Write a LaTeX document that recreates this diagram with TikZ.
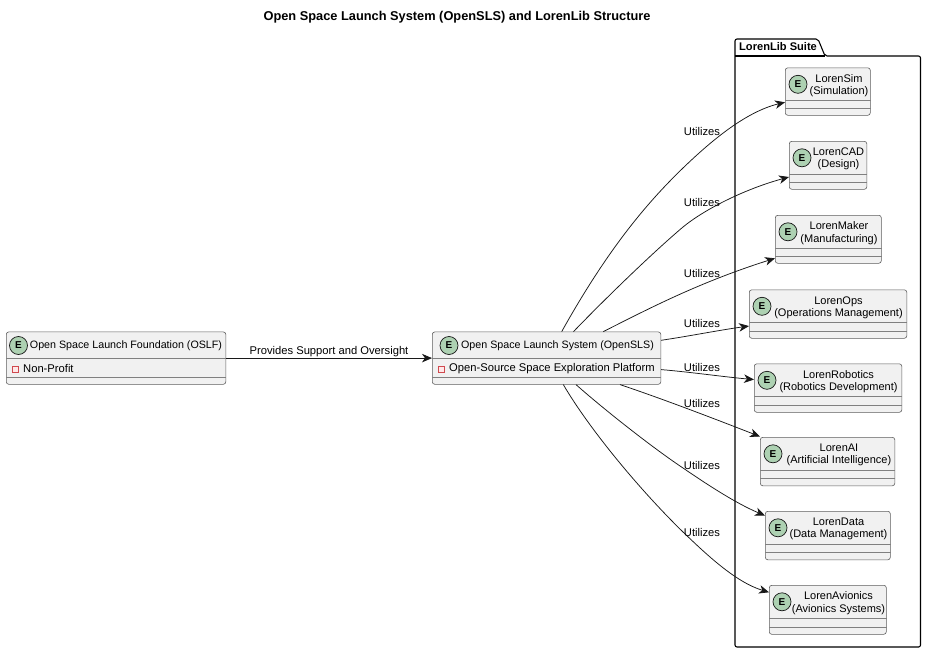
\documentclass[tikz,border=0pt]{standalone}
\usepackage{fontspec}
\setmainfont{Liberation Sans}
\usetikzlibrary{arrows.meta,calc}
\definecolor{boxfill}{HTML}{F1F1F1}
\definecolor{edgecol}{HTML}{181818}
\definecolor{circfill}{HTML}{ADD1B2}
\definecolor{attrred}{HTML}{C82930}
\definecolor{attrfill}{HTML}{FFE8E8}
\tikzset{
  entbox/.style={draw=edgecol!70,line width=0.6pt,fill=boxfill,rounded corners=2.5pt,inner sep=0pt,anchor=north west},
  entsep/.style={draw=edgecol!55,line width=0.7pt},
  entcirc/.style={circle,draw=edgecol,line width=0.7pt,fill=circfill,minimum size=18pt,inner sep=0pt,font=\fontsize{10}{10}\selectfont\bfseries},
  enttext/.style={font=\fontsize{11}{12.4}\selectfont,align=center,inner sep=0pt,text=black},
  hdrtext/.style={font=\fontsize{10.7}{12}\selectfont,inner sep=0pt,text=black},
  attrtext/.style={font=\fontsize{11.2}{12}\selectfont,inner sep=0pt,anchor=west,text=black},
  attrmark/.style={rectangle,draw=attrred!85,fill=attrfill,line width=0.7pt,minimum size=5.8pt,inner sep=0pt},
  linklabel/.style={font=\fontsize{11.2}{12}\selectfont,inner sep=0pt,text=black},
  conn/.style={draw=edgecol,line width=0.75pt,-{Stealth[length=10pt,width=8.5pt,inset=3pt]}},
  pkg/.style={draw=black,line width=1.1pt,fill=white,line join=round}
}
% name, x1, y1, x2, y2, circle x, text x, text
\newcommand{\entbig}[8]{%
  \node[entbox,minimum width={(#4-#2)*1pt},minimum height={(#5-#3)*1pt}] (#1) at (#2,#3) {};
  \draw[entsep] ($(#1.north west)+(0,-33.2pt)$) -- ($(#1.north east)+(0,-33.2pt)$);
  \draw[entsep] ($(#1.south west)+(0,7.5pt)$) -- ($(#1.south east)+(0,7.5pt)$);
  \node[entcirc] (#1c) at (#6,#3+16.8) {E};
  \node[enttext] (#1t) at (#7,#3+18) {#8};
}
% name, x1, x2, circle x, text x, title, attr x, attr
\newcommand{\entattr}[8]{%
  \node[entbox,minimum width={(#3-#2)*1pt},minimum height=52.4pt] (#1) at (#2,331.6) {};
  \draw[entsep] ($(#1.north west)+(0,-26.6pt)$) -- ($(#1.north east)+(0,-26.6pt)$);
  \draw[entsep] ($(#1.south west)+(0,6.8pt)$) -- ($(#1.south east)+(0,6.8pt)$);
  \node[entcirc] (#1c) at (#4,345.5) {E};
  \node[hdrtext] (#1t) at (#5,345.5) {#6};
  \node[attrmark] (#1m) at (#2+9.7,369.3) {};
  \node[attrtext] (#1a) at (#7,368.5) {#8};
}
\begin{document}
\begin{tikzpicture}[x=1pt,y=-1pt]
\useasboundingbox (0,0) rectangle (927,653);
\node[font=\fontsize{12.8}{14}\selectfont\bfseries,inner sep=0pt] (title) at (457,17) {Open Space Launch System (OpenSLS) and LorenLib Structure};
\draw[pkg,rounded corners=2pt] (735,56) -- (735,39) -- (818,39) -- (825,56) -- (920.5,56) -- (920.5,647) -- (735,647) -- cycle;
\draw[pkg] (735,56) -- (825,56);
\node[font=\fontsize{11.1}{12}\selectfont\bfseries,inner sep=0pt,anchor=west] (pkgname) at (739,47) {LorenLib Suite};
\entattr{oslf}{6}{225.5}{18.5}{126}{Open Space Launch Foundation (OSLF)}{23}{Non-Profit}
\entattr{sls}{432}{660.5}{449}{557.5}{Open Space Launch System (OpenSLS)}{449}{Open-Source Space Exploration Platform}
\entbig{sim}{785}{67.5}{870}{115}{798}{839}{LorenSim\\(Simulation)}
\entbig{cad}{789}{141}{866.5}{189}{802}{838.5}{LorenCAD\\(Design)}
\entbig{maker}{775}{215}{881}{263}{788}{839}{LorenMaker\\(Manufacturing)}
\entbig{ops}{749}{289.5}{906.5}{338}{762}{838.5}{LorenOps\\(Operations Management)}
\entbig{rob}{754}{363.5}{901.5}{412}{767}{838.5}{LorenRobotics\\(Robotics Development)}
\entbig{ai}{760}{437}{894.5}{485.5}{773}{839}{LorenAI\\(Artificial Intelligence)}
\entbig{data}{765}{511}{890}{559.5}{778}{838.5}{LorenData\\(Data Management)}
\entbig{avi}{769}{585}{886}{634}{782}{838.5}{LorenAvionics\\(Avionics Systems)}
\draw[conn] (oslf.east) -- (sls.west);
\node[linklabel] (l0) at (329,352) {Provides Support and Oversight};
\draw[conn] ([xshift=129.7pt]sls.north west) .. controls (610,245) and (650,200) .. (683,168) .. controls (710,142) and (745,112) .. ([yshift=-10.7pt]sim.west);
\draw[conn] ([xshift=141.5pt]sls.north west) .. controls (602,302) and (650,255) .. (683,227) .. controls (705,209) and (745,189) .. ([yshift=-11.7pt]cad.west);
\draw[conn] ([xshift=171.3pt]sls.north west) .. controls (650,308) and (700,282) .. ([yshift=-19pt]maker.west);
\draw[conn] ([yshift=17.8pt]sls.east) .. controls (690,336) and (720,330) .. ([yshift=-12pt]ops.west);
\draw[conn] ([yshift=-11.5pt]sls.east) .. controls (690,372) and (725,377) .. ([yshift=8.5pt]rob.west);
\draw[conn] ([xshift=188pt]sls.south west) .. controls (660,398) and (710,417) .. ([yshift=25pt]ai.west);
\draw[conn] ([xshift=144pt]sls.south west) .. controls (600,406) and (650,446) .. (683,468) .. controls (705,483) and (735,503) .. ([yshift=20pt]data.west);
\draw[conn] ([xshift=131.3pt]sls.south west) .. controls (590,430) and (640,490) .. (683,532) .. controls (705,553) and (735,582) .. ([yshift=17.5pt]avi.west);
\node[linklabel] (l1) at (702,131.5) {Utilizes};
\node[linklabel] (l2) at (702,202.5) {Utilizes};
\node[linklabel] (l3) at (702,273.5) {Utilizes};
\node[linklabel] (l4) at (702,323.5) {Utilizes};
\node[linklabel] (l5) at (702,367) {Utilizes};
\node[linklabel] (l6) at (702,403.5) {Utilizes};
\node[linklabel] (l7) at (702,465.5) {Utilizes};
\node[linklabel] (l8) at (702,532.5) {Utilizes};
\end{tikzpicture}
\end{document}
